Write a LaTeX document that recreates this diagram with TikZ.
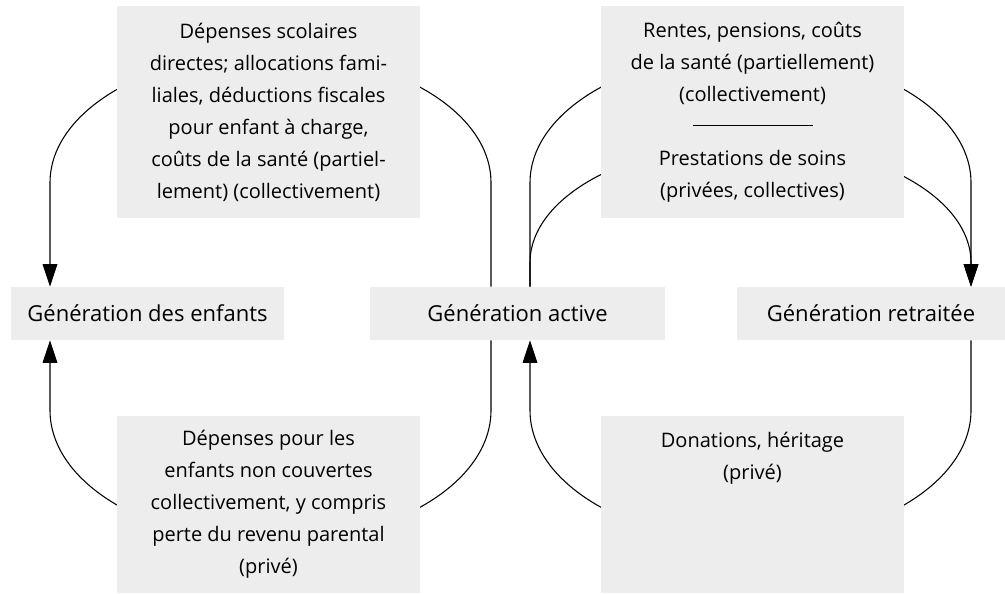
\documentclass[tikz,border=0pt]{standalone}
\usepackage{fontspec}
\setmainfont{Open Sans}
\usetikzlibrary{arrows.meta,calc,backgrounds}
\definecolor{boxgray}{HTML}{EDEDED}
\begin{document}
\begin{tikzpicture}[x=0.75pt,y=0.75pt,
  every node/.style={font=\fontsize{15}{24}\selectfont},
  gen/.style={fill=boxgray,minimum height=39.75pt,inner sep=0pt,font=\fontsize{16.5}{24}\selectfont},
  flux/.style={fill=boxgray,align=center,minimum width=227.25pt,inner sep=0pt},
  fleche/.style={line width=0.8pt,-{Triangle[length=17pt,width=11pt]}}]
\useasboundingbox (0,0) rectangle (1005,593);
\node[gen,minimum width=204.75pt] (enfants) at (147.5,279.5) {Génération des enfants};
\node[gen,minimum width=221.25pt] (active) at (517.5,279.5) {Génération active};
\node[gen,minimum width=201pt] (retraite) at (871,279.5) {Génération retraitée};
\node[flux,minimum height=159pt] (scol) at (268.5,481) {Dépenses scolaires\\directes; allocations fami-\\liales, déductions fiscales\\pour enfant à charge,\\coûts de la santé (partiel-\\lement) (collectivement)};
\node[flux,minimum height=159pt] (rentes) at (752.5,481) {Rentes, pensions, coûts\\de la santé (partiellement)\\(collectivement)\\\rule[5.25pt]{90pt}{0.8pt}\\Prestations de soins\\(privées, collectives)};
\node[flux,minimum height=132.75pt] (prive) at (268.5,88.5) {Dépenses pour les\\enfants non couvertes\\collectivement, y compris\\perte du revenu parental\\(privé)};
\node[flux,inner ysep=8pt,text height=39.25pt,text depth=77.5pt] (heritage) at (752.5,88.5) {Donations, héritage\\(privé)};
\begin{scope}[on background layer]
\draw[fleche] ($(active.north)+(-26.5,0)$) -- ++(0,104) arc[start angle=0,end angle=180,x radius=220.5,y radius=130] -- ++(0,-104);
\draw[fleche] ($(active.south)+(-26.5,0)$) -- ++(0,-70) arc[start angle=0,end angle=-180,x radius=220.5,y radius=132] -- ++(0,70);
\draw[fleche] ($(active.north)+(12.5,0)$) -- ++(0,104) arc[start angle=180,end angle=0,x radius=220.5,y radius=130] -- ++(0,-104);
\draw[fleche] ($(active.north)+(12.5,0)$) -- ++(0,24) arc[start angle=180,end angle=0,x radius=220.5,y radius=120] -- ++(0,-24);
\draw[fleche] ($(retraite.south)+(100,0)$) -- ++(0,-70) arc[start angle=0,end angle=-180,x radius=220.5,y radius=132] -- ++(0,70);
\end{scope}
\end{tikzpicture}
\end{document}
